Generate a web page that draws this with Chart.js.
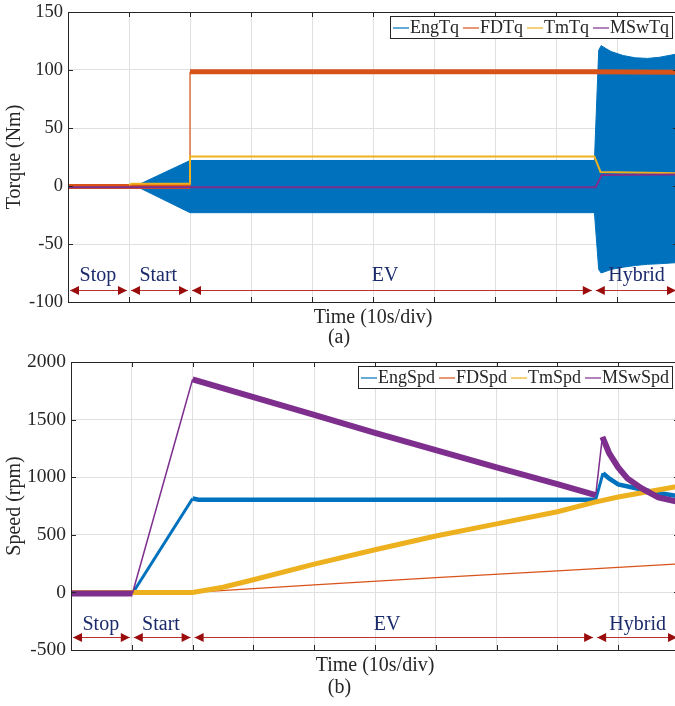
<!DOCTYPE html>
<html>
<head>
<meta charset="utf-8">
<title>Torque and speed</title>
<script src="https://cdn.jsdelivr.net/npm/chart.js@4.4.1/dist/chart.umd.min.js"></script>
<style>
  html, body { margin: 0; padding: 0; background: #fff; overflow: hidden; width: 675px; height: 706px; }
  canvas { position: absolute; left: 0; }
  #torque { top: 0; }
  #speed { top: 350px; }
</style>
</head>
<body>
<canvas id="torque" width="680" height="350"></canvas>
<canvas id="speed" width="680" height="356"></canvas>
<script>
// time axis, 10 s per division
const timeTicks = [0, 10, 20, 30, 40, 50, 60, 70, 80, 90, 100];
const phaseNames = ["Stop", "Start", "EV", "Hybrid"];
const phaseEdges = [0, 10, 20, 86.2, 100];
const phaseLabelT = [4.9, 14.8, 52, 93.2];

const seriesColors = ["#0072BD", "#D95319", "#EDB120", "#7E2F8E"];

// (a) torque (Nm)
const torqueNames = ["EngTq", "FDTq", "TmTq", "MSwTq"];
const torqueTicks = [-100, -50, 0, 50, 100, 150];
// engine torque oscillates, kept as upper / lower envelope
const engTqT  = [0, 11.3, 20, 86.3, 87.0, 87.4, 89, 91, 93, 95, 97, 100];
const engTqHi = [0.5, 0.5, 22, 22, 117, 121, 116, 112.5, 110.5, 110, 111, 114];
const engTqLo = [-0.5, -0.5, -23, -23, -72, -75, -72, -70, -68.5, -67.5, -67, -66];
const fdTqT = [0, 20, 20, 50, 86, 100];
const fdTq  = [-0.5, -0.5, 98.5, 98.5, 98.5, 98];
const tmTqT = [10, 10.5, 20, 20, 86.3, 87.3, 100];
const tmTq  = [1, 2, 2, 25.5, 25.5, 12, 11];
const mswTqT = [0, 86.5, 87.5, 100];
const mswTq  = [-1, -1, 9.5, 10];

// (b) speed (rpm)
const speedNames = ["EngSpd", "FDSpd", "TmSpd", "MSwSpd"];
const speedTicks = [-500, 0, 500, 1000, 1500, 2000];
const engSpdT = [0, 10.1, 20, 21, 86.3, 87.5, 88.5, 90, 93.3, 96.4, 100];
const engSpd  = [-10, -10, 815, 805, 805, 1035, 990, 937, 900, 865, 835];
const fdSpdT = [0, 20, 40, 60, 80, 90, 100];
const fdSpd  = [0, 0, 66, 128, 187, 217, 247];
const tmSpdT = [0, 20, 25, 30, 40, 50, 60, 70, 80, 86, 90, 100];
const tmSpd  = [0, 0, 45, 110, 245, 370, 490, 595, 700, 781, 828, 922];
const mswSpdT = [0, 10.1, 20, 30, 40, 50, 60, 70, 80, 86.3, 87.4, 88.5, 90, 91.5, 93.8, 96.6, 100];
const mswSpd  = [-10, -10, 1850, 1695, 1540, 1385, 1235, 1085, 940, 845, 1350, 1210, 1085, 990, 905, 825, 785];

const axisColor = "#262626";
const gridColor = "#e0e0e0";
Chart.defaults.font.family = '"Liberation Serif", "Times New Roman", serif';
Chart.defaults.color = axisColor;

const pts = (t, v) => t.map((x, i) => ({ x: x, y: v[i] }));

// thin line where a trace climbs steeply, thick noisy band elsewhere
const steep = (thin, thick, lim) => ctx =>
  (ctx.p1.parsed.y - ctx.p0.parsed.y) / Math.max(ctx.p1.parsed.x - ctx.p0.parsed.x, 1e-6) > lim ? thin : thick;

const phasePlugin = {
  id: "phases",
  afterDatasetsDraw(chart, args, o) {
    const { ctx } = chart;
    const x = chart.scales.x, y = chart.scales.y;
    const ya = Math.round(y.getPixelForValue(o.arrowAt)) + 0.5;
    const yl = y.getPixelForValue(o.labelAt);
    ctx.save();
    for (let i = 0; i < phaseNames.length; i++) {
      const x0 = x.getPixelForValue(phaseEdges[i]) + 2;
      const x1 = x.getPixelForValue(phaseEdges[i + 1]) - 2;
      ctx.strokeStyle = "#b8312f";
      ctx.lineWidth = 1;
      ctx.beginPath();
      ctx.moveTo(x0, ya);
      ctx.lineTo(x1, ya);
      ctx.stroke();
      ctx.fillStyle = "#9b0d0d";
      [[x0, 1], [x1, -1]].forEach(([px, d]) => {
        ctx.beginPath();
        ctx.moveTo(px, ya);
        ctx.lineTo(px + d * 9, ya - 4.5);
        ctx.lineTo(px + d * 9, ya + 4.5);
        ctx.closePath();
        ctx.fill();
      });
      ctx.fillStyle = "#1b2a6b";
      ctx.font = '20px "Liberation Serif"';
      ctx.textAlign = "center";
      ctx.textBaseline = "middle";
      ctx.fillText(phaseNames[i], x.getPixelForValue(phaseLabelT[i]), yl);
    }
    ctx.restore();
  }
};

// MATLAB style box with inward ticks on all sides
const framePlugin = {
  id: "frame",
  afterDatasetsDraw(chart) {
    const { ctx, chartArea: a } = chart;
    const x = chart.scales.x, y = chart.scales.y;
    ctx.save();
    ctx.strokeStyle = axisColor;
    ctx.lineWidth = 1;
    ctx.strokeRect(Math.round(a.left) + 0.5, Math.round(a.top) + 0.5,
      Math.round(a.right - a.left), Math.round(a.bottom - a.top));
    ctx.beginPath();
    x.ticks.forEach(t => {
      const px = Math.round(x.getPixelForValue(t.value)) + 0.5;
      ctx.moveTo(px, a.bottom); ctx.lineTo(px, a.bottom - 5);
      ctx.moveTo(px, a.top); ctx.lineTo(px, a.top + 5);
    });
    y.ticks.forEach(t => {
      const py = Math.round(y.getPixelForValue(t.value)) + 0.5;
      ctx.moveTo(a.left, py); ctx.lineTo(a.left + 5, py);
      ctx.moveTo(a.right, py); ctx.lineTo(a.right - 5, py);
    });
    ctx.stroke();
    ctx.restore();
  }
};

const boxLegend = {
  id: "boxLegend",
  afterDraw(chart, args, o) {
    const { ctx, chartArea: a } = chart;
    ctx.save();
    ctx.font = '18px "Liberation Serif"';
    const lineLen = 16, gap = 4, pad = 3, h = 22;
    const widths = o.names.map(n => ctx.measureText(n).width);
    const w = Math.round(pad * 2 + widths.reduce((s, v) => s + v, 0) +
      o.names.length * (lineLen + 1) + gap * (o.names.length - 1));
    const right = Math.round(a.right) - o.inset;
    const top = Math.round(a.top) + 4;
    const left = right - w;
    ctx.fillStyle = "#fff";
    ctx.fillRect(left, top, w, h);
    ctx.strokeStyle = axisColor;
    ctx.lineWidth = 1;
    ctx.strokeRect(left + 0.5, top + 0.5, w, h);
    let cx = left + pad;
    const cy = top + h / 2 + 1;
    o.names.forEach((n, i) => {
      ctx.strokeStyle = seriesColors[i];
      ctx.lineWidth = 1.2;
      ctx.beginPath();
      ctx.moveTo(cx, cy);
      ctx.lineTo(cx + lineLen, cy);
      ctx.stroke();
      cx += lineLen + 1;
      ctx.fillStyle = axisColor;
      ctx.textBaseline = "middle";
      ctx.fillText(n, cx, cy);
      cx += widths[i] + gap;
    });
    ctx.restore();
  }
};

function makeOptions(cfg) {
  return {
    responsive: false,
    animation: false,
    events: [],
    layout: { padding: { top: 12, right: cfg.padRight, bottom: cfg.padBottom, left: 0 } },
    elements: { point: { radius: 0 }, line: { tension: 0 } },
    scales: {
      x: {
        type: "linear", min: 0, max: 100,
        afterBuildTicks: s => { s.ticks = timeTicks.map(v => ({ value: v })); },
        ticks: { display: false },
        grid: { color: gridColor, drawTicks: false },
        border: { display: false },
        title: {
          display: true, text: "Time (10s/div)", color: axisColor,
          font: { size: 20, lineHeight: 1 }, padding: { top: cfg.xTitleTop, bottom: cfg.xTitleBottom }
        }
      },
      y: {
        min: cfg.ticks[0], max: cfg.ticks[cfg.ticks.length - 1],
        afterBuildTicks: s => { s.ticks = cfg.ticks.map(v => ({ value: v })); },
        afterFit: s => { s.width = cfg.yWidth; s.paddingTop = 0; s.paddingBottom = 0; },
        ticks: { font: { size: cfg.tickSize }, color: axisColor, padding: 5, callback: v => String(v) },
        grid: { color: gridColor, drawTicks: false },
        border: { display: false },
        title: {
          display: true, text: cfg.yTitle, color: axisColor,
          font: { size: 20, lineHeight: 1.2 }, padding: { top: 3, bottom: 0 }
        }
      }
    },
    plugins: {
      legend: { display: false },
      tooltip: { enabled: false },
      title: {
        display: true, text: cfg.caption, position: "bottom", color: axisColor,
        font: { size: 20, weight: "normal", lineHeight: 1 }, padding: 0
      },
      phases: { arrowAt: cfg.arrowAt, labelAt: cfg.labelAt },
      boxLegend: { names: cfg.names, inset: cfg.legendInset }
    }
  };
}

new Chart(document.getElementById("torque"), {
  type: "line",
  data: {
    datasets: [
      { label: "EngTq", data: pts(engTqT, engTqHi), borderColor: seriesColors[0], backgroundColor: seriesColors[0],
        borderWidth: 1, fill: "+1", order: 4 },
      { label: "EngTq low", data: pts(engTqT, engTqLo), borderColor: seriesColors[0], borderWidth: 1, fill: false, order: 4 },
      { label: "FDTq", data: pts(fdTqT, fdTq), borderColor: seriesColors[1], borderWidth: 5, fill: false, order: 3,
        segment: { borderWidth: steep(1.2, 5, 50) } },
      { label: "TmTq", data: pts(tmTqT, tmTq), borderColor: seriesColors[2], borderWidth: 2, fill: false, order: 2 },
      { label: "MSwTq", data: pts(mswTqT, mswTq), borderColor: seriesColors[3], borderWidth: 2, fill: false, order: 1 }
    ]
  },
  options: makeOptions({
    ticks: torqueTicks, tickSize: 18.5, yTitle: "Torque (Nm)", caption: "(a)", names: torqueNames,
    yWidth: 68, padRight: 2, padBottom: 2, xTitleTop: 6, xTitleBottom: 0,
    arrowAt: -89.5, labelAt: -77.5, legendInset: 6
  }),
  plugins: [phasePlugin, framePlugin, boxLegend]
});

new Chart(document.getElementById("speed"), {
  type: "line",
  data: {
    datasets: [
      { label: "EngSpd", data: pts(engSpdT, engSpd), borderColor: seriesColors[0], borderWidth: 4.5, fill: false, order: 4,
        segment: { borderWidth: steep(3, 4.5, 60) } },
      { label: "FDSpd", data: pts(fdSpdT, fdSpd), borderColor: seriesColors[1], borderWidth: 1.3, fill: false, order: 3 },
      { label: "TmSpd", data: pts(tmSpdT, tmSpd), borderColor: seriesColors[2], borderWidth: 5, fill: false, order: 2 },
      { label: "MSwSpd", data: pts(mswSpdT, mswSpd), borderColor: seriesColors[3], borderWidth: 6, fill: false, order: 1,
        segment: { borderWidth: steep(1.5, 6, 60) } }
    ]
  },
  options: makeOptions({
    ticks: speedTicks, tickSize: 19.5, yTitle: "Speed (rpm)", caption: "(b)", names: speedNames,
    yWidth: 71, padRight: 1, padBottom: 8, xTitleTop: 6, xTitleBottom: 2,
    arrowAt: -387, labelAt: -283, legendInset: 7
  }),
  plugins: [phasePlugin, framePlugin, boxLegend]
});
</script>
</body>
</html>
